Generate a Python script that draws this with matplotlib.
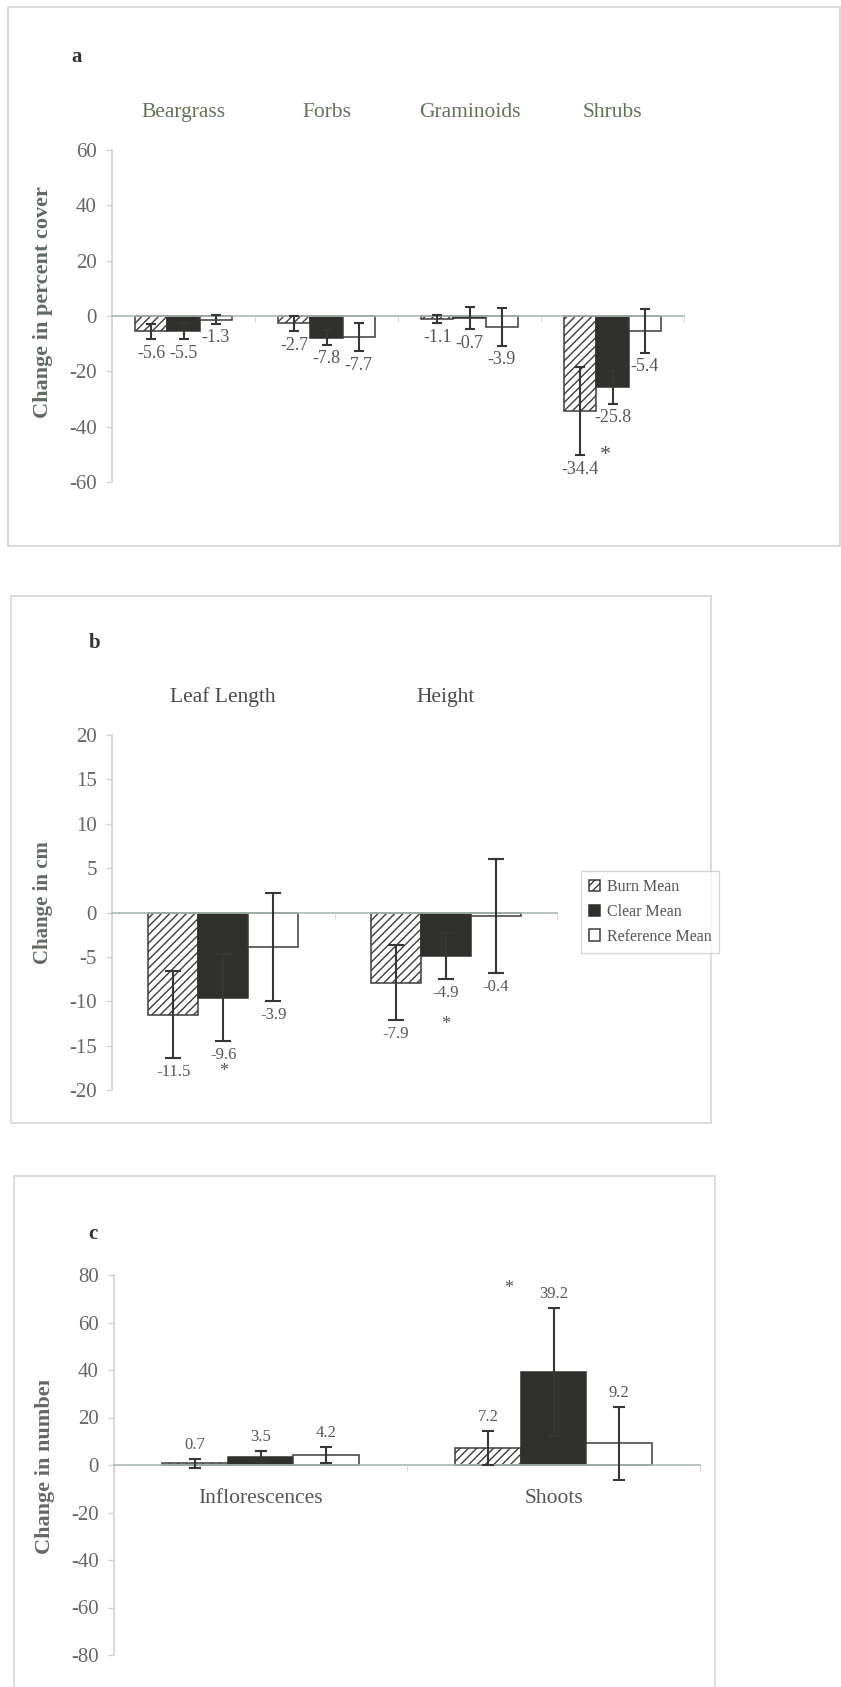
import matplotlib
matplotlib.use("Agg")
import matplotlib.pyplot as plt
import numpy as np
from matplotlib.patches import Rectangle
from matplotlib.transforms import Bbox, TransformedBbox

plt.rcParams['font.family'] = ['Liberation Serif', 'DejaVu Serif']
plt.rcParams['axes.unicode_minus'] = False
plt.rcParams['hatch.linewidth'] = 1.0

series_names = ["Burn Mean", "Clear Mean", "Reference Mean"]

# panel a - percent cover
cats_a = ["Beargrass", "Forbs", "Graminoids", "Shrubs"]
burn_a = [-5.6, -2.7, -1.1, -34.4]
clear_a = [-5.5, -7.8, -0.7, -25.8]
ref_a = [-1.3, -7.7, -3.9, -5.4]
burn_err_a = [2.8, 2.8, 1.6, 16.0]
clear_err_a = [2.9, 2.6, 4.1, 6.0]
ref_err_a = [1.5, 5.0, 6.8, 7.9]

# panel b - cm
cats_b = ["Leaf Length", "Height"]
burn_b = [-11.5, -7.9]
clear_b = [-9.6, -4.9]
ref_b = [-3.9, -0.4]
burn_err_b = [4.9, 4.2]
clear_err_b = [4.9, 2.6]
ref_err_b = [6.1, 6.4]

# panel c - number
cats_c = ["Inflorescences", "Shoots"]
burn_c = [0.7, 7.2]
clear_c = [3.5, 39.2]
ref_c = [4.2, 9.2]
burn_err_c = [1.8, 7.2]
clear_err_c = [2.3, 26.8]
ref_err_c = [3.3, 15.4]

# significance stars: (category, series)
stars_a = [(3, 0)]
stars_b = [(0, 1), (1, 1)]
stars_c = [(1, 1)]

W, H = 841, 1687
fig = plt.figure(figsize=(W / 100, H / 100), dpi=100)


def fx(x):
    return x / W


def fy(y):
    return 1 - y / H


def axes_px(x0, x1, ytop, ybot):
    return fig.add_axes([fx(x0), fy(ybot), (x1 - x0) / W, (ybot - ytop) / H])


# panel borders
for x0, y0, x1, y1 in [(8, 7, 840, 546), (11, 596, 711, 1123), (14, 1176, 715, 1700)]:
    fig.add_artist(Rectangle((fx(x0), fy(y1)), (x1 - x0) / W, (y1 - y0) / H,
                             transform=fig.transFigure, fill=False,
                             edgecolor="#d6d6d6", linewidth=1.2))

styles = [dict(facecolor="white", edgecolor="#3c3c3c", hatch="////"),
          dict(facecolor="#30302d", edgecolor="#30302d"),
          dict(facecolor="white", edgecolor="#3c3c3c")]

tick_col = "#666666"
bw = 0.224


def panel(ax, cats, vals, errs, ylim, ystep, cat_col, cat_top, val_fs, capsize, stars, star_offs, star_fs):
    n = len(cats)
    x = np.arange(n)
    bars = []
    for k in range(3):
        xs = x + (k - 1) * bw
        b = ax.bar(xs, vals[k], bw, linewidth=1.1, zorder=2, **styles[k])
        bars.append(b)
        ax.errorbar(xs, vals[k], yerr=errs[k], fmt="none", ecolor="#363634",
                    elinewidth=1.5, capsize=capsize, capthick=1.5, zorder=3)
        for i in range(n):
            v, e = vals[k][i], errs[k][i]
            sgn = 1 if v >= 0 else -1
            ax.annotate(f"{v:.1f}", (xs[i], v + sgn * e), xytext=(0, sgn * 10),
                        textcoords="offset points", ha="center", va="center",
                        fontsize=val_fs, color="#555555", zorder=4)
    for (i, k), (dx, dy) in zip(stars, star_offs):
        v, e = vals[k][i], errs[k][i]
        sgn = 1 if v >= 0 else -1
        ax.annotate("*", (x[i] + (k - 1) * bw, v + sgn * e), xytext=(dx, dy),
                    textcoords="offset points", ha="center", va="center",
                    fontsize=star_fs, color="#555555")
    ax.set_xlim(-0.5, n - 0.5)
    ax.set_ylim(*ylim)
    ax.set_yticks(np.arange(ylim[0], ylim[1] + 1, ystep))
    for s in ["top", "right"]:
        ax.spines[s].set_visible(False)
    ax.spines["bottom"].set_position(("data", 0))
    ax.spines["bottom"].set_color("#a9bab2")
    ax.spines["bottom"].set_linewidth(1.2)
    ax.spines["left"].set_color("#cfd4d1")
    ax.spines["left"].set_linewidth(1.2)
    ax.tick_params(axis="y", direction="out", length=4, width=1, color="#cfd4d1",
                   labelsize=15, labelcolor=tick_col, pad=7)
    ax.set_xticks(np.arange(-0.5, n), minor=True)
    ax.tick_params(axis="x", which="minor", direction="out", length=4, color="#cfd4d1")
    if cat_top:
        ax.set_xticks(x, [""] * n)
        ax.tick_params(axis="x", which="major", length=0)
        for i, c in enumerate(cats):
            ax.annotate(c, (i, 1), xycoords=("data", "axes fraction"), xytext=(0, 27),
                        textcoords="offset points", ha="center", va="center",
                        fontsize=15.5, color=cat_col)
    else:
        ax.set_xticks(x, cats)
        ax.tick_params(axis="x", which="major", length=0, pad=17, labelsize=15.5,
                       labelcolor=cat_col)
    ax.patch.set_alpha(0)
    return bars


ax_a = axes_px(112, 684, 150, 482)
panel(ax_a, cats_a, [burn_a, clear_a, ref_a], [burn_err_a, clear_err_a, ref_err_a],
      (-60, 60), 20, "#5f7557", True, 13, 3.6, stars_a, [(18, 0)], 16)
fig.text(fx(43), fy(302), "Change in percent cover", rotation=90, ha="center", va="center",
         fontsize=16, fontweight="bold", color="#5f6a62")
fig.text(fx(77), fy(57), "a", ha="center", va="center", fontsize=15, fontweight="bold", color="#333333")

ax_b = axes_px(112, 557, 735, 1090)
bars_b = panel(ax_b, cats_b, [burn_b, clear_b, ref_b], [burn_err_b, clear_err_b, ref_err_b],
               (-20, 20), 5, "#4a4a4a", True, 12, 6, stars_b, [(0, -22), (0, -33)], 13)
fig.text(fx(43), fy(903), "Change in cm", rotation=90, ha="center", va="center",
         fontsize=15, fontweight="bold", color="#5f6a62")
fig.text(fx(95), fy(643), "b", ha="center", va="center", fontsize=15, fontweight="bold", color="#333333")
leg = fig.legend(bars_b, series_names, loc="upper left",
                 bbox_to_anchor=(fx(573), fy(863)), fontsize=11.5, frameon=True,
                 fancybox=False, edgecolor="#cccccc", handlelength=0.7, handleheight=0.7,
                 handletextpad=0.4, labelspacing=0.55, borderpad=0.5, labelcolor="#555555")
leg.get_frame().set_linewidth(1.0)

ax_c = axes_px(114, 700, 1275, 1655)
panel(ax_c, cats_c, [burn_c, clear_c, ref_c], [burn_err_c, clear_err_c, ref_err_c],
      (-80, 80), 20, "#555555", False, 12, 4.3, stars_c, [(-32, 14)], 13)
yl = fig.text(fx(45), fy(1465), "Change in number", rotation=90, ha="center", va="center",
              fontsize=16, fontweight="bold", color="#666666")
yl.set_clip_box(TransformedBbox(Bbox([[0, 0], [1, fy(1381)]]), fig.transFigure))
yl.set_clip_on(True)
fig.text(fx(93), fy(1234), "c", ha="center", va="center", fontsize=15, fontweight="bold", color="#333333")

fig.savefig("out.png", dpi=100, facecolor="white")
